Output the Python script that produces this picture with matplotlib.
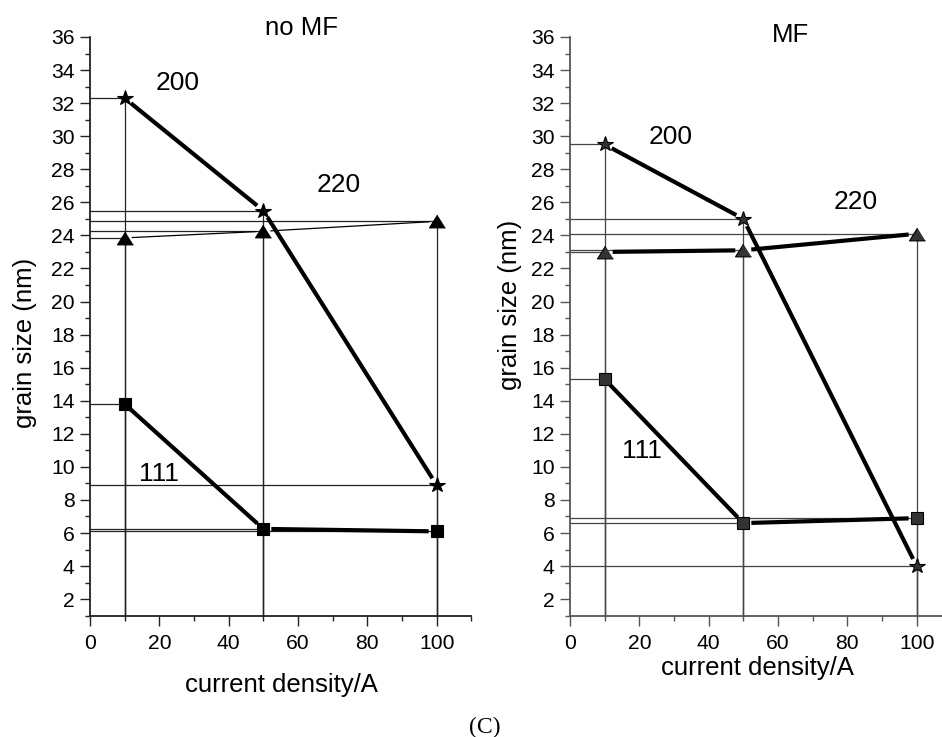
import matplotlib
matplotlib.use("Agg")
import matplotlib.pyplot as plt
from matplotlib.ticker import MultipleLocator
import numpy as np

plt.rcParams['font.family'] = ['Liberation Sans', 'DejaVu Sans']

# ---- data ----
current = [10, 50, 100]
nomf_200 = [32.3, 25.5, 8.9]
nomf_220 = [23.85, 24.25, 24.85]
nomf_111 = [13.8, 6.25, 6.1]
mf_200 = [29.5, 25.0, 4.0]
mf_220 = [23.0, 23.1, 24.1]
mf_111 = [15.3, 6.6, 6.9]

titles = ["no MF", "MF"]
xlabel = "current density/A"
ylabel = "grain size (nm)"
peak_labels = ["200", "220", "111"]

W, H = 942, 737
fig = plt.figure(figsize=(W / 100, H / 100), dpi=100)

def px_rect(x0, x1, ytop, ybot):
    return [x0 / W, (H - ybot) / H, (x1 - x0) / W, (ybot - ytop) / H]

axL = fig.add_axes(px_rect(90, 471.3, 37, 615.7))
axR = fig.add_axes(px_rect(570, 951.3, 37, 615.7))

def setup(ax, spine_col):
    ax.set_xlim(0, 110)
    ax.set_ylim(1, 36)
    for s in ['top', 'right']:
        ax.spines[s].set_visible(False)
    for s in ['left', 'bottom']:
        ax.spines[s].set_linewidth(1.3)
        ax.spines[s].set_color(spine_col)
    ax.xaxis.set_major_locator(MultipleLocator(20))
    ax.xaxis.set_minor_locator(MultipleLocator(10))
    ax.yaxis.set_major_locator(MultipleLocator(2))
    ax.yaxis.set_minor_locator(MultipleLocator(1))
    ax.tick_params(which='major', direction='out', length=7, width=1.0,
                   labelsize=15.2, colors=spine_col, labelcolor='black')
    ax.tick_params(axis='x', which='major', pad=6)
    ax.tick_params(axis='y', which='major', pad=4)
    ax.tick_params(which='minor', direction='out', length=3.8, width=1.0,
                   colors=spine_col)
    ax.patch.set_alpha(0)

setup(axL, '#222222')
setup(axR, '#555555')

def droplines(ax, xs, ys, col):
    for x, y in zip(xs, ys):
        ax.plot([x, x], [1, y], color=col, lw=0.9, zorder=2, clip_on=False)
        ax.plot([0, x], [y, y], color=col, lw=0.9, zorder=2, clip_on=False)

def gapped_line(ax, xs, ys, lw, gap=8.0):
    pts = ax.transData.transform(np.column_stack([xs, ys]))
    inv = ax.transData.inverted()
    for i in range(len(pts) - 1):
        p0, p1 = pts[i], pts[i + 1]
        d = p1 - p0
        L = np.hypot(*d)
        u = d / L
        q0 = inv.transform(p0 + u * gap)
        q1 = inv.transform(p1 - u * gap)
        ax.plot([q0[0], q1[0]], [q0[1], q1[1]], color='black', lw=lw,
                solid_capstyle='butt', zorder=3)

tri = [(0, 0.8), (-1, -0.8), (1, -0.8)]

def panel(ax, s200, s220, s111, fill, thin220, dropcol):
    for ys in (s200, s220, s111):
        droplines(ax, current, ys, dropcol)
    gapped_line(ax, current, s200, 3.0)
    if thin220:
        gapped_line(ax, current, s220, 0.9, gap=7)
    else:
        gapped_line(ax, current, s220, 3.0)
    gapped_line(ax, current, s111, 3.0)
    ax.plot(current, s200, linestyle='none', marker='*', ms=11.5,
            mfc=fill, mec='black', mew=0.8, zorder=5, clip_on=False)
    ax.plot(current, s220, linestyle='none', marker=tri, ms=11.5,
            mfc=fill, mec='black', mew=0.8, zorder=5, clip_on=False)
    ax.plot(current, s111, linestyle='none', marker='s', ms=8,
            mfc=fill, mec='black', mew=0.8, zorder=5, clip_on=False)

panel(axL, nomf_200, nomf_220, nomf_111, 'black', True, '#222222')
panel(axR, mf_200, mf_220, mf_111, '#333333', False, '#444444')

fs = 18.5
fa = 19
# left annotations
axL.text(61, 36.55, titles[0], fontsize=fs, ha='center', va='center', clip_on=False)
axL.text(25.4, 33.2, peak_labels[0], fontsize=fa, ha='center', va='center')
axL.text(71.8, 27.04, peak_labels[1], fontsize=fa, ha='center', va='center')
axL.text(19.9, 9.6, peak_labels[2], fontsize=fa, ha='center', va='center')
# right annotations
axR.text(63.7, 36.15, titles[1], fontsize=fs, ha='center', va='center', clip_on=False)
axR.text(29.1, 29.95, peak_labels[0], fontsize=fa, ha='center', va='center')
axR.text(82.5, 26.0, peak_labels[1], fontsize=fa, ha='center', va='center')
axR.text(20.8, 10.94, peak_labels[2], fontsize=fa, ha='center', va='center')

# axis labels
axL.text(0.501, -0.1198, xlabel, transform=axL.transAxes, fontsize=fs,
         ha='center', va='center')
axR.text((757 - 570) / 381.3, (615.7 - 668) / 578.7, xlabel,
         transform=axR.transAxes, fontsize=fs, ha='center', va='center')
axL.text((25 - 90) / 381.3, (615.7 - 343) / 578.7, ylabel, rotation=90,
         transform=axL.transAxes, fontsize=fs, ha='center', va='center')
axR.text((510 - 570) / 381.3, (615.7 - 305) / 578.7, ylabel, rotation=90,
         transform=axR.transAxes, fontsize=fs, ha='center', va='center')

fig.text(485 / W, 1 - 733 / H, "(C)", fontsize=17, family='Liberation Serif',
         ha='center', va='baseline')

fig.savefig("out.png", dpi=100)
